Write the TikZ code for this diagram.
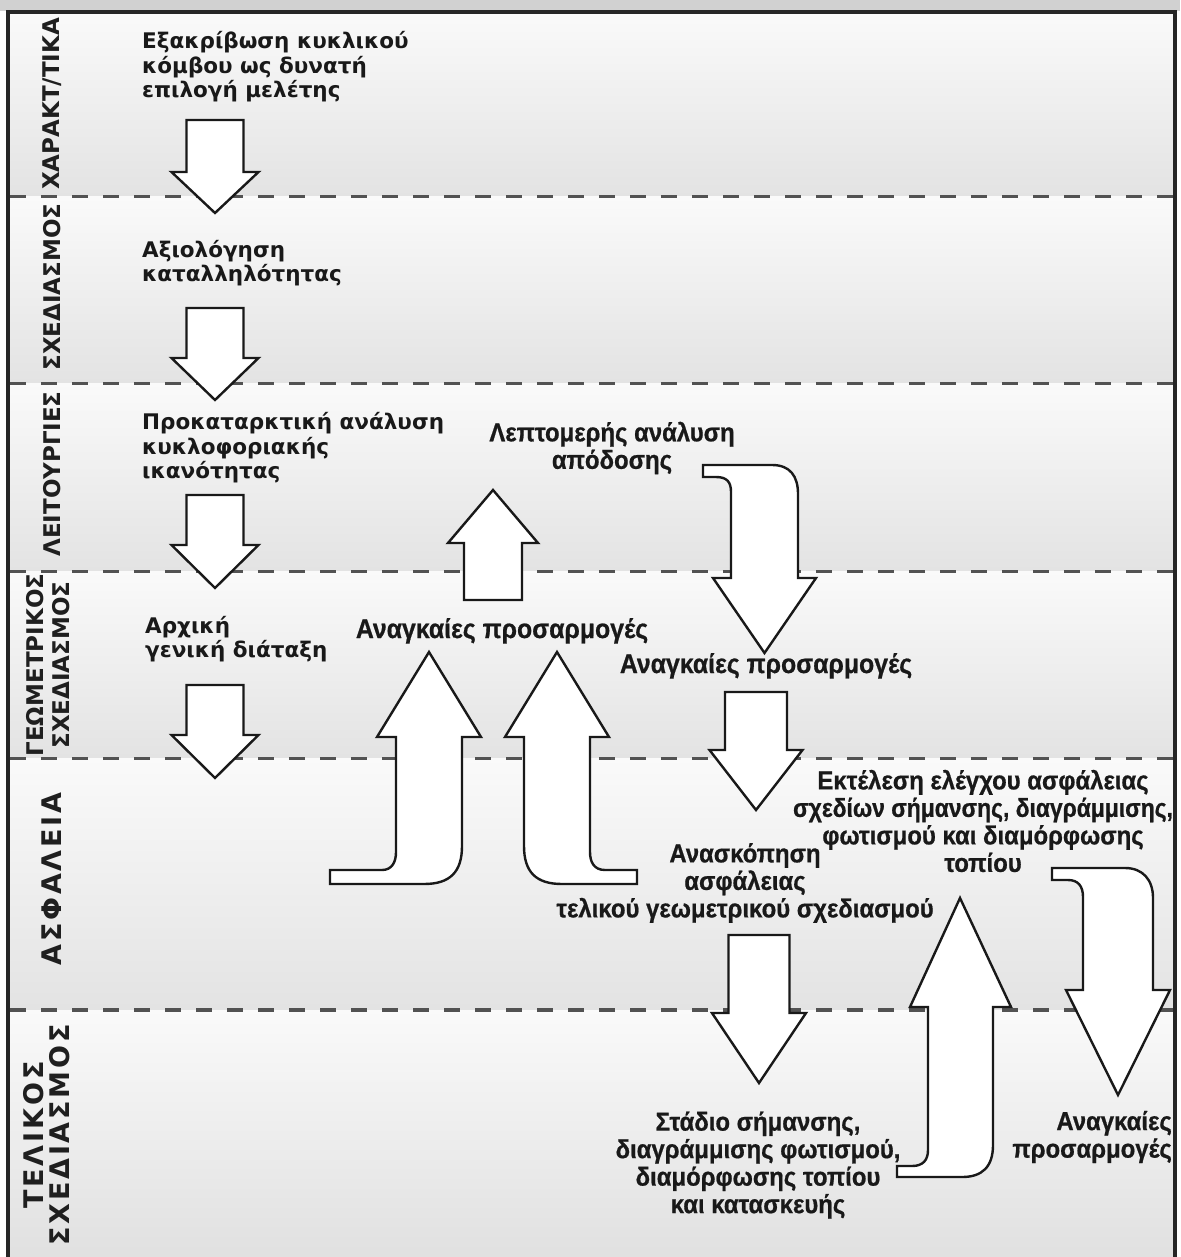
\documentclass[tikz,border=0pt]{standalone}
\usepackage{fontspec}
\usepackage{graphicx}
\setmainfont{Liberation Sans}
\newfontfamily\geofont{DejaVu Sans}
\newfontfamily\geowide{DejaVu Sans}[LetterSpace=10.5]
\newfontfamily\arifont{Liberation Sans}[FakeStretch=0.92, FakeBold=0.7]
\newcommand\blockarr[6]{% cx, tail y, shoulder y, tip y, shaft half, head half
  \draw[blockarrow] ({#1-#5},#2) -- ({#1+#5},#2) -- ({#1+#5},#3) -- ({#1+#6},#3)
    -- (#1,#4) -- ({#1-#6},#3) -- ({#1-#5},#3) -- cycle;}
\begin{document}
\begin{tikzpicture}[x=1pt,y=-1pt,
  blockarrow/.style={draw=black!90, fill=white, line width=2.4pt, line join=miter},
  sepline/.style={draw=black!68, line width=3pt, dash pattern=on 16pt off 15pt},
  lab/.style={rotate=90, font=\geofont\bfseries\fontsize{23}{26}\selectfont, align=center, inner sep=0pt, text=black!88},
  labw/.style={rotate=90, font=\geowide\bfseries\fontsize{27}{26}\selectfont, align=center, inner sep=0pt, text=black!88},
  geo/.style={font=\geofont\bfseries\fontsize{21.5}{24.5}\selectfont, align=left, anchor=west, inner sep=0pt, text=black!90},
  ari/.style={font=\arifont\bfseries\fontsize{26}{27.5}\selectfont, align=center, inner sep=0pt, text=black!90},
  arib/.style={font=\arifont\bfseries\fontsize{27}{28}\selectfont, inner sep=0pt, text=black!90, anchor=base}]
\useasboundingbox (0,0) rectangle (1180,1257);
% top strip
\fill[black!18] (0,0) rectangle (1180,11);
% band backgrounds
\shade[top color=white!98!black, bottom color=white!89!black] (8,12) rectangle (1175,197);
\shade[top color=white!98!black, bottom color=white!89!black] (8,197) rectangle (1175,383);
\shade[top color=white!98!black, bottom color=white!89!black] (8,383) rectangle (1175,571);
\shade[top color=white!98!black, bottom color=white!89!black] (8,571) rectangle (1175,758);
\shade[top color=white!98!black, bottom color=white!89!black] (8,758) rectangle (1175,1010);
\shade[top color=white!98!black, bottom color=white!88!black] (8,1010) rectangle (1175,1257);
% separators
\draw[sepline] (10,197) -- (1175,197);
\draw[sepline] (10,383) -- (1175,383);
\draw[sepline] (10,571) -- (1175,571);
\draw[sepline] (10,758) -- (1175,758);
\draw[sepline, line width=4.5pt] (10,1010) -- (1175,1010);
% frame
\draw[line width=3.5pt, black!85] (8,1257) -- (8,12) -- (1175,12) -- (1175,1257);

% left labels
\node[lab] (l1) at (52,104) {ΧΑΡΑΚΤ/ΤΙΚΑ};
\node[lab] (l2) at (52,287) {ΣΧΕΔΙΑΣΜΟΣ};
\node[lab] (l3) at (52,474) {ΛΕΙΤΟΥΡΓΙΕΣ};
\node[lab] (l4) at (48,665) {ΓΕΩΜΕΤΡΙΚΟΣ\\ΣΧΕΔΙΑΣΜΟΣ};
\node[labw] (l5) at (52,879) {ΑΣΦΑΛΕΙΑ};
\node[labw] (l6) at (47,1135) {ΤΕΛΙΚΟΣ\\ΣΧΕΔΙΑΣΜΟΣ};

% left column
\node[geo] (t1) at (142,67) {Εξακρίβωση κυκλικού\\κόμβου ως δυνατή\\επιλογή μελέτης};
\node[geo] (t2) at (142,263) {Αξιολόγηση\\καταλληλότητας};
\node[geo] (t3) at (142,448) {Προκαταρκτική ανάλυση\\κυκλοφοριακής\\ικανότητας};
\node[geo] (t4) at (145,639) {Αρχική\\γενική διάταξη};
\blockarr{215}{120}{172}{213}{28.5}{43.5}
\blockarr{215}{308}{358}{400}{28.5}{43.5}
\blockarr{215}{495}{545}{588}{28.5}{43.5}
\blockarr{215}{685}{735}{778}{28.5}{43.5}

% middle
\node[ari] (m1) at (612,448) {Λεπτομερής ανάλυση\\απόδοσης};
\blockarr{493}{600}{543}{490}{29}{45}
\node[arib] (m2) at (502,638) {Αναγκαίες προσαρμογές};
\node[arib] (m3) at (766,673) {Αναγκαίες προσαρμογές};
% curved arrow from m1 down
\draw[blockarrow] (703,465) -- (772,465) .. controls (790,465) and (798,476) .. (798,494)
  -- (798,578) -- (816,578) -- (764.5,653) -- (713,578) -- (731,578) -- (731,492)
  .. controls (731,482) and (727,477) .. (716,477) -- (703,477) -- cycle;
\blockarr{756}{692}{750}{810}{31}{46.5}
% big bent up arrows
\draw[blockarrow] (429,652) -- (481,737) -- (462,737) -- (462,846)
  .. controls (462,872) and (450,884) .. (424,884) -- (330,884) -- (330,870) -- (382,870)
  .. controls (392,870) and (396,862) .. (396,852) -- (396,737) -- (377,737) -- cycle;
\draw[blockarrow] (557,652) -- (609,737) -- (590,737) -- (590,852)
  .. controls (590,862) and (594,870) .. (605,870) -- (637,870) -- (637,884) -- (562,884)
  .. controls (536,884) and (524,872) .. (524,846) -- (524,737) -- (505,737) -- cycle;

% right part
\node[ari] (m4) at (983,821) {Εκτέλεση ελέγχου ασφάλειας\\\scalebox{0.955}[1]{σχεδίων σήμανσης, διαγράμμισης,}\\φωτισμού και διαμόρφωσης\\τοπίου};
\node[ari] (m5) at (745,883) {Ανασκόπηση\\ασφάλειας\\τελικού γεωμετρικού σχεδιασμού};
\blockarr{759}{935}{1013}{1083}{30.5}{47}
\node[ari] (m6) at (758,1165) {Στάδιο σήμανσης,\\διαγράμμισης φωτισμού,\\διαμόρφωσης τοπίου\\και κατασκευής};
\node[ari, align=right, anchor=east] (m7) at (1172,1137) {Αναγκαίες\\προσαρμογές};
% up arrow from m6
\draw[blockarrow] (960,898) -- (1011,1007) -- (993,1007) -- (993,1145)
  .. controls (993,1167) and (982,1177) .. (962,1177) -- (897,1177) -- (897,1166) -- (912,1166)
  .. controls (923,1166) and (928,1160) .. (928,1150) -- (928,1007) -- (910,1007) -- cycle;
% curved down arrow to m7
\draw[blockarrow] (1052,868) -- (1125,868) .. controls (1143,868) and (1153,880) .. (1153,898)
  -- (1153,990) -- (1170,990) -- (1118,1095) -- (1066,990) -- (1083,990) -- (1083,897)
  .. controls (1083,886) and (1078,880) .. (1068,880) -- (1052,880) -- cycle;
\end{tikzpicture}
\end{document}
